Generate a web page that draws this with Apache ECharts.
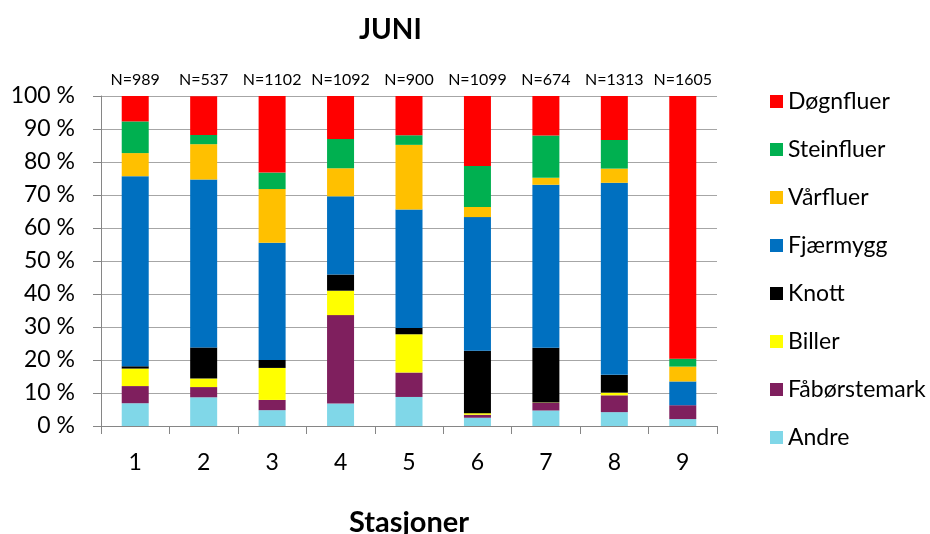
<!DOCTYPE html>
<html>
<head>
<meta charset="utf-8">
<script src="https://cdn.jsdelivr.net/npm/echarts@6/dist/echarts.min.js"></script>
<style>html,body{margin:0;padding:0;background:#fff}#c{width:930px;height:534px}</style>
</head>
<body>
<div id="c"></div>
<script>
const stations = ['1','2','3','4','5','6','7','8','9'];
const nLabels = ['N=989','N=537','N=1102','N=1092','N=900','N=1099','N=674','N=1313','N=1605'];
const andre        = [6.9, 8.7, 4.8, 6.8, 8.8, 2.5, 4.7, 4.2, 2.1];
const faborstemark = [5.2, 3.1, 3.1, 26.8, 7.4, 0.9, 2.3, 5.1, 4.2];
const biller       = [5.3, 2.6, 9.7, 7.4, 11.6, 0.5, 0.1, 0.8, 0.0];
const knott        = [0.7, 9.4, 2.4, 4.9, 1.9, 18.9, 16.6, 5.4, 0.0];
const fjaermygg    = [57.6, 50.9, 35.5, 23.7, 35.9, 40.5, 49.4, 58.2, 7.2];
const varfluer     = [7.0, 10.7, 16.3, 8.5, 19.6, 3.1, 2.1, 4.3, 4.5];
const steinfluer   = [9.6, 2.8, 5.0, 8.9, 2.9, 12.4, 12.8, 8.7, 2.4];
const dognfluer    = [7.7, 11.7, 23.2, 13.0, 11.9, 21.2, 12.1, 13.3, 79.6];
const yTicks = [0,10,20,30,40,50,60,70,80,90,100];

const FONT = 'Lato, "Open Sans", sans-serif';
const seriesDefs = [
  {name:'Andre', data:andre, color:'#80D7E8'},
  {name:'Fåbørstemark', data:faborstemark, color:'#7F1F5E'},
  {name:'Biller', data:biller, color:'#FFFF00'},
  {name:'Knott', data:knott, color:'#000000'},
  {name:'Fjærmygg', data:fjaermygg, color:'#0070C0'},
  {name:'Vårfluer', data:varfluer, color:'#FFC000'},
  {name:'Steinfluer', data:steinfluer, color:'#00B050'},
  {name:'Døgnfluer', data:dognfluer, color:'#FF0000'}
];

const series = seriesDefs.map((s, i) => {
  const o = {
    name: s.name, type: 'bar', stack: 'total', barWidth: 27,
    data: s.data, itemStyle: {color: s.color},
    emphasis: {disabled: true}
  };
  if (i === seriesDefs.length - 1) {
    o.label = {
      show: true, position: 'top', distance: 8,
      formatter: p => nLabels[p.dataIndex],
      fontFamily: FONT, fontSize: 16, color: '#000'
    };
  }
  return o;
});

const chart = echarts.init(document.getElementById('c'));
chart.setOption({
  animation: false,
  backgroundColor: '#fff',
  title: {
    text: 'JUNI', left: 354, top: 11,
    textStyle: {fontFamily: FONT, fontSize: 28, fontWeight: 'bold', color: '#000'}
  },
  legend: {
    orient: 'vertical', left: 765, top: 85,
    data: seriesDefs.map(s => s.name).reverse(),
    itemWidth: 13, itemHeight: 13, itemGap: 25,
    icon: 'rect',
    textStyle: {fontFamily: FONT, fontSize: 23, color: '#000'}
  },
  grid: {left: 101, right: 213, top: 96, bottom: 108, containLabel: false, outerBoundsMode: 'none'},
  xAxis: {
    type: 'category', data: stations,
    name: 'Stasjoner', nameLocation: 'middle', nameGap: 82,
    nameTextStyle: {fontFamily: FONT, fontSize: 29, fontWeight: 'bold', color: '#000'},
    axisLine: {lineStyle: {color: '#868686'}},
    axisTick: {show: true, length: 8, lineStyle: {color: '#868686'}},
    axisLabel: {fontFamily: FONT, fontSize: 23, color: '#000', margin: 25}
  },
  yAxis: {
    type: 'value', min: 0, max: 100, interval: 10,
    axisLine: {show: true, lineStyle: {color: '#868686'}},
    axisTick: {show: true, length: 8, lineStyle: {color: '#868686'}},
    splitLine: {lineStyle: {color: '#A6A6A6'}},
    axisLabel: {
      fontFamily: FONT, fontSize: 23, color: '#000', margin: 26,
      formatter: v => (yTicks.indexOf(v) >= 0 ? v + ' %' : '')
    }
  },
  series: series
});
</script>
</body>
</html>
